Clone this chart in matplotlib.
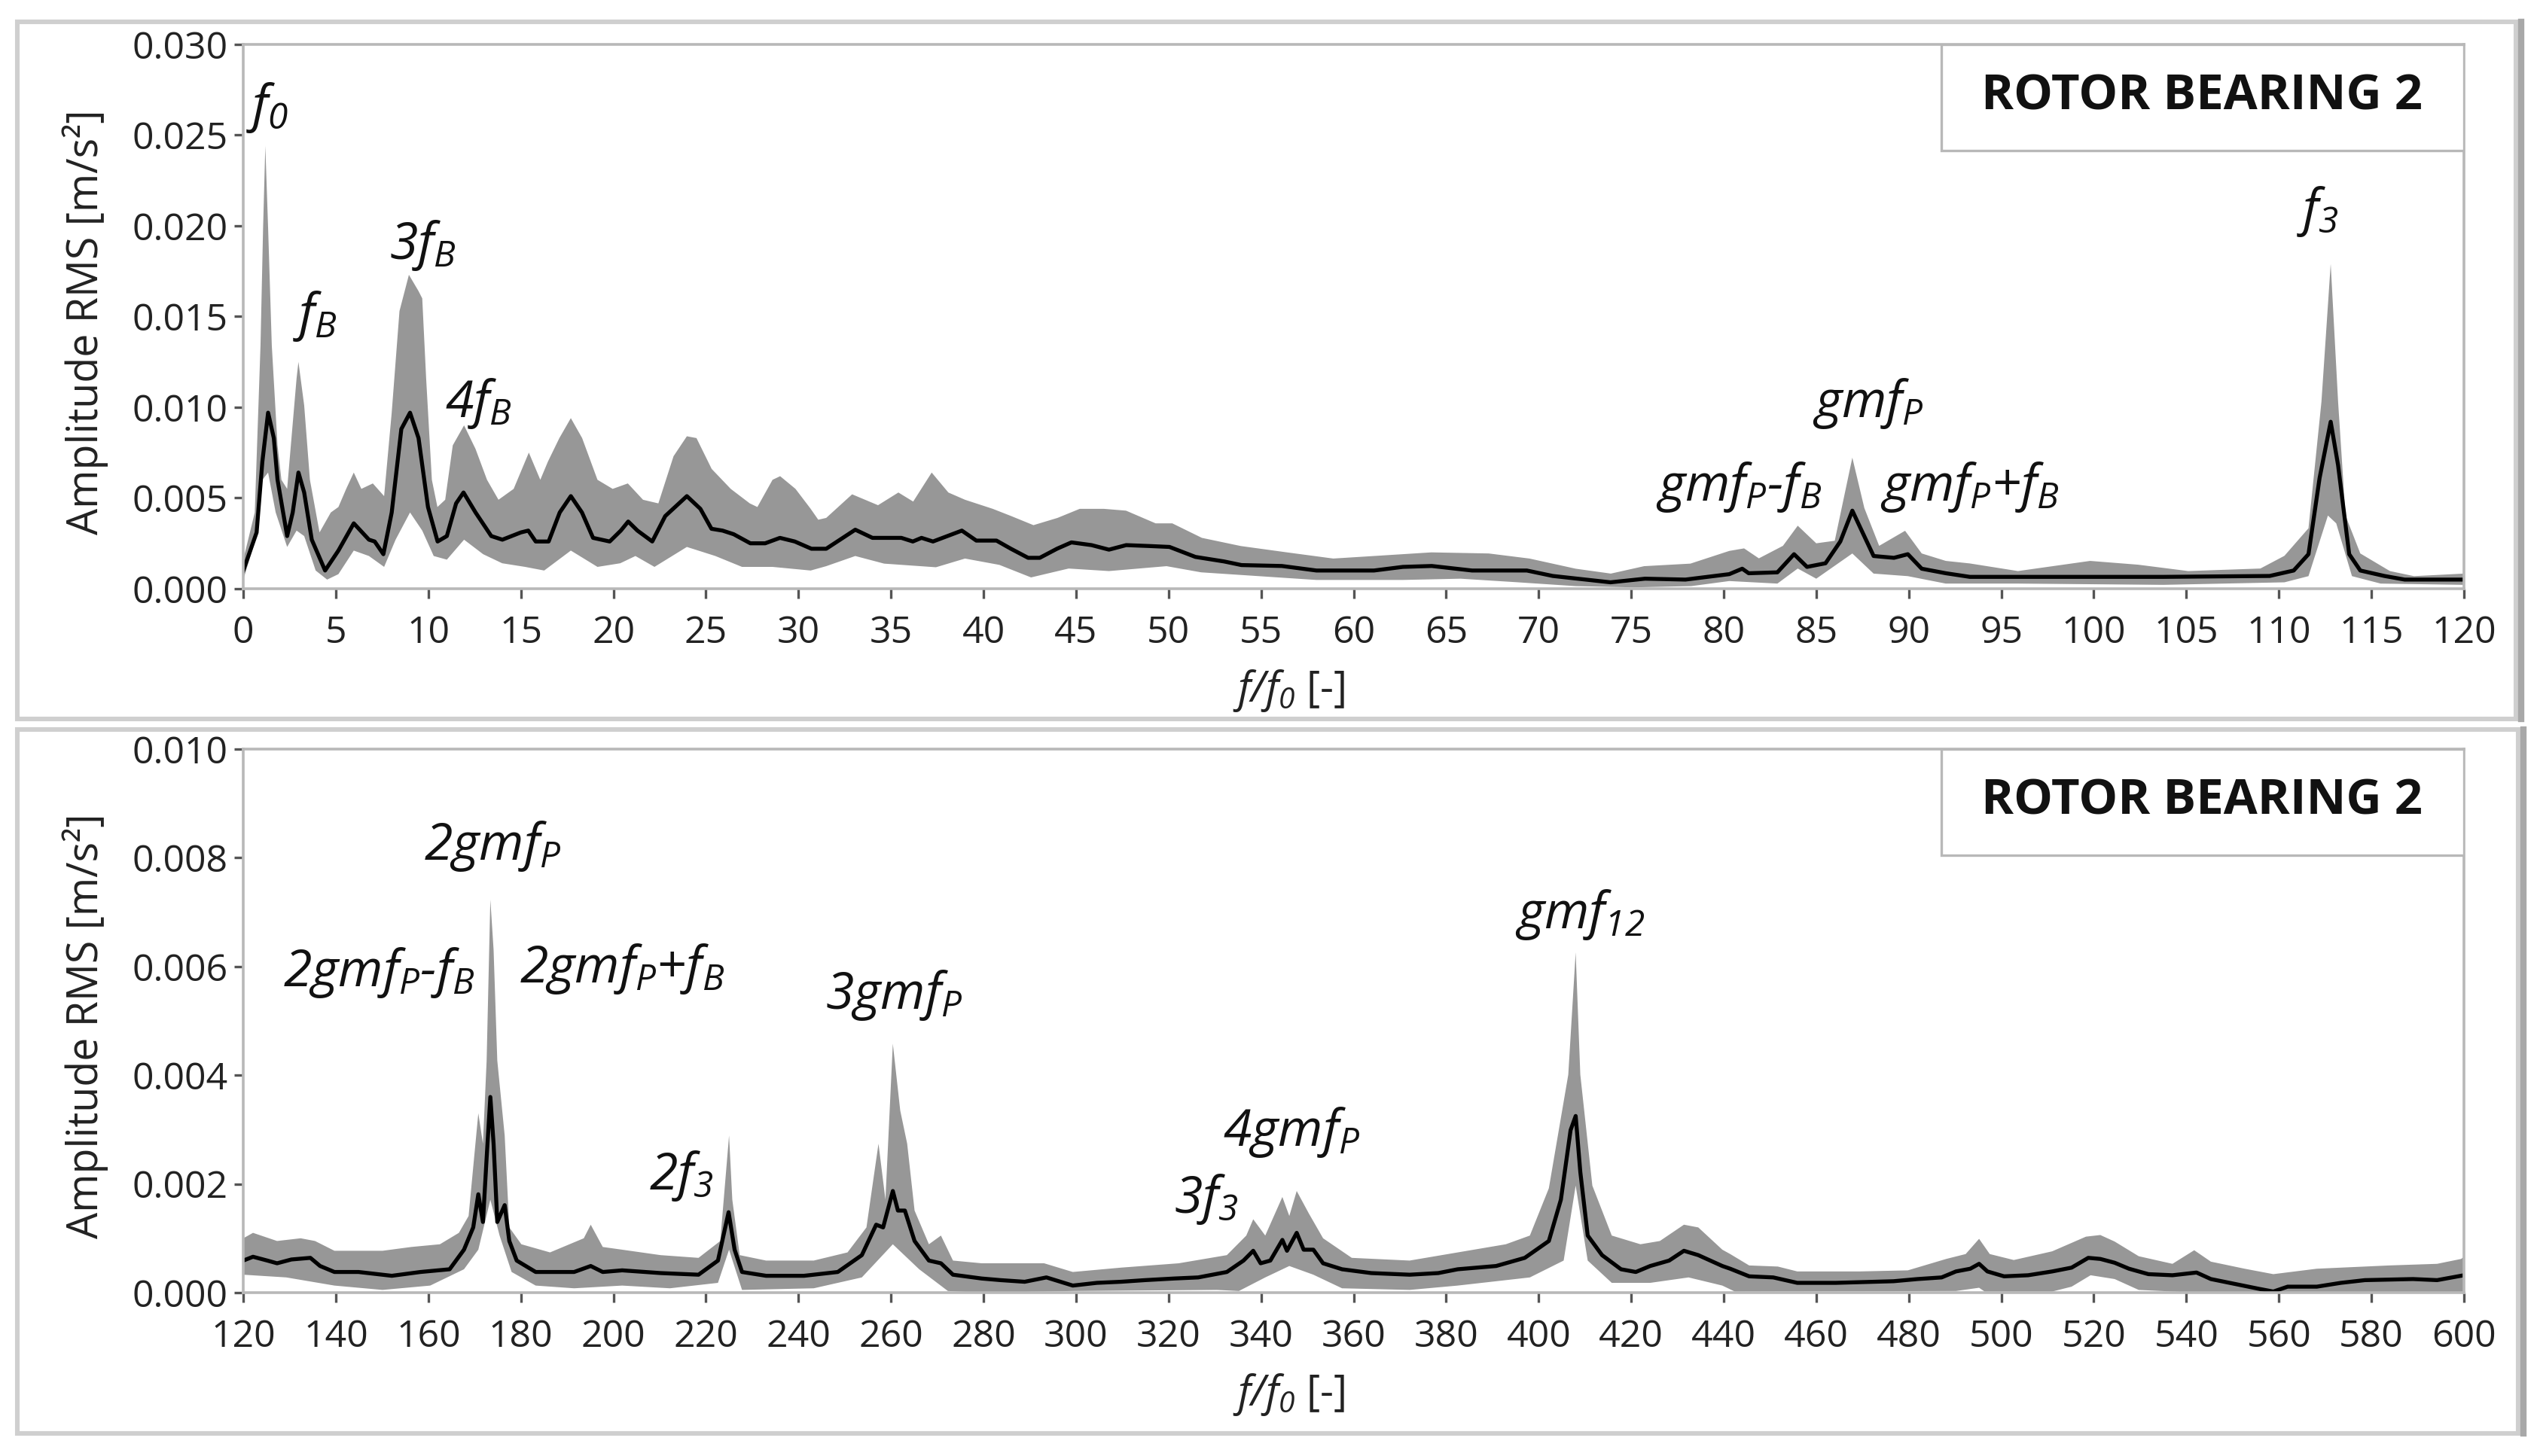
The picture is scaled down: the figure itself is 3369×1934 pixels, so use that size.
import numpy as np
import matplotlib
matplotlib.use("Agg")
import matplotlib.pyplot as plt
from matplotlib.patches import Rectangle
from matplotlib.lines import Line2D

plt.rcParams['font.family'] = ['Open Sans', 'DejaVu Sans']
plt.rcParams['mathtext.fontset'] = 'custom'
plt.rcParams['mathtext.it'] = 'Open Sans:italic'
plt.rcParams['mathtext.rm'] = 'Open Sans:italic'
plt.rcParams['mathtext.default'] = 'it'

# amplitudes are written in 1e-3 m/s^2

# ---- panel 1 : f/f0 = 0 .. 120 ----
top_mean_x = [0, 0.72, 1.03, 1.34, 1.65, 1.85, 2.37, 2.67, 2.98, 3.29, 3.70, 4.42, 5.14, 5.97, 6.79, 7.1, 7.57,
              8.02, 8.54, 9.01, 9.47, 9.98, 10.5, 11.0, 11.5, 11.9, 12.55, 13.4, 14.0, 15.0, 15.4, 15.8, 16.5,
              17.1, 17.7, 18.3, 18.9, 19.8, 20.4, 20.8, 21.3, 22.1, 22.8, 23.97, 24.7, 25.3, 25.9, 26.5, 27.4,
              28.2, 29.0, 29.8, 30.7, 31.5, 33.07, 34.0, 35.56, 36.18, 36.65, 37.27, 38.05, 38.83, 39.61, 40.7,
              41.48, 42.41, 43.04, 43.97, 44.75, 45.84, 46.78, 47.71, 48.96, 50.05, 51.45, 53.0, 53.94, 56.12,
              57.99, 61.1, 62.66, 64.22, 66.4, 69.36, 70.76, 73.88, 75.75, 77.93, 80.3, 81.0, 81.35, 82.9, 83.8,
              84.5, 85.5, 86.3, 86.95, 87.5, 88.1, 89.2, 89.95, 90.7, 92.0, 93.3, 98.5, 103.75, 109.5, 110.8,
              111.6, 112.2, 112.8, 113.2, 113.8, 114.4, 115.7, 116.8, 120]
top_mean_y = [1.0, 3.1, 7.0, 9.7, 8.3, 6.0, 2.9, 4.2, 6.4, 5.3, 2.7, 1.0, 2.1, 3.6, 2.7, 2.6, 1.9,
              4.2, 8.8, 9.7, 8.3, 4.5, 2.6, 2.9, 4.7, 5.3, 4.2, 2.9, 2.7, 3.1, 3.2, 2.6, 2.6,
              4.2, 5.1, 4.2, 2.8, 2.6, 3.2, 3.7, 3.2, 2.6, 4.0, 5.1, 4.4, 3.3, 3.2, 3.0, 2.5,
              2.5, 2.8, 2.6, 2.2, 2.2, 3.25, 2.8, 2.8, 2.6, 2.8, 2.6, 2.9, 3.2, 2.65, 2.65,
              2.2, 1.7, 1.7, 2.2, 2.55, 2.4, 2.15, 2.4, 2.35, 2.3, 1.75, 1.5, 1.3, 1.25,
              1.0, 1.0, 1.2, 1.25, 1.0, 1.0, 0.7, 0.35, 0.55, 0.5, 0.8, 1.1, 0.85, 0.9, 1.9,
              1.2, 1.4, 2.6, 4.3, 3.1, 1.8, 1.7, 1.9, 1.1, 0.85, 0.65, 0.65, 0.65, 0.7, 1.0,
              1.9, 6.1, 9.2, 6.8, 1.9, 1.0, 0.7, 0.5, 0.5]

top_upper_x = [0, 0.62, 0.93, 1.07, 1.19, 1.34, 1.54, 1.85, 2.06, 2.37, 2.57, 2.88, 2.98, 3.29, 3.60, 4.12,
               4.73, 5.14, 5.56, 5.97, 6.38, 7.0, 7.61, 8.02, 8.44, 8.95, 9.47, 9.67, 9.88, 10.19, 10.49,
               10.91, 11.32, 11.93, 12.55, 13.17, 13.79, 14.61, 15.43, 16.05, 16.46, 17.08, 17.7, 18.31,
               19.14, 19.96, 20.78, 21.6, 22.43, 23.25, 23.97, 24.49, 25.31, 26.34, 27.37, 27.78, 28.6,
               29.01, 29.84, 30.66, 31.07, 31.5, 32.9, 34.3, 35.4, 36.2, 37.2, 38.1, 39.0, 40.5, 41.5, 42.7,
               44.0, 45.2, 46.5, 47.7, 49.3, 50.2, 51.8, 53.9, 56.4, 58.9, 61.1, 64.2, 67.3, 69.5, 72.0,
               73.9, 75.7, 78.2, 80.3, 81.1, 81.9, 83.2, 84.0, 85.0, 86.0, 86.95, 87.6, 88.4, 89.8, 90.7,
               92.0, 93.3, 95.9, 99.8, 102.4, 105.1, 109.0, 110.3, 111.6, 112.3, 112.8, 113.2, 113.6, 114.4,
               116.0, 117.3, 120]
top_upper_y = [1.6, 4.2, 13.4, 19.9, 24.4, 19.9, 13.4, 7.9, 6.0, 5.5, 7.9, 11.6, 12.5, 10.1, 6.0, 3.1,
               4.2, 4.5, 5.5, 6.4, 5.5, 5.8, 5.1, 9.7, 15.3, 17.3, 16.4, 16.0, 11.6, 6.0, 4.5,
               4.9, 7.9, 9.0, 7.7, 6.0, 4.9, 5.5, 7.5, 6.0, 7.0, 8.3, 9.4, 8.3,
               6.0, 5.5, 5.8, 4.9, 4.7, 7.3, 8.4, 8.3, 6.6, 5.5, 4.7, 4.5, 6.0,
               6.2, 5.5, 4.4, 3.8, 3.9, 5.2, 4.6, 5.3, 4.8, 6.4, 5.3, 4.9, 4.4, 4.0, 3.5,
               3.9, 4.4, 4.4, 4.3, 3.6, 3.6, 2.8, 2.35, 2.0, 1.66, 1.8, 2.0, 1.94, 1.66, 1.1,
               0.83, 1.24, 1.38, 2.08, 2.22, 1.67, 2.36, 3.47, 2.5, 2.64, 7.22, 4.44, 2.36, 3.19, 1.94,
               1.53, 1.39, 0.97, 1.53, 1.32, 0.97, 1.11, 1.81, 3.33, 10.3, 17.9, 10.3, 4.03, 1.94,
               0.97, 0.69, 0.83]

top_lower_x = [0, 0.72, 1.03, 1.34, 1.75, 2.37, 2.88, 3.29, 3.91, 4.53, 5.14, 5.97, 6.79, 7.61, 8.23, 9.01,
               9.67, 10.29, 11.0, 11.93, 12.96, 13.99, 15.23, 16.26, 17.7, 19.14, 20.37, 21.19, 22.22, 23.97,
               25.51, 26.95, 28.6, 30.66, 31.5, 33.07, 34.63, 37.43, 39.0, 40.86, 42.57, 44.6, 46.78, 49.89,
               51.76, 54.88, 57.99, 62.66, 65.78, 68.89, 72.0, 75.12, 78.24, 80.3, 82.9, 84.0, 85.0, 86.95,
               88.1, 89.95, 92.0, 95.9, 103.75, 110.3, 111.6, 112.65, 113.1, 113.95, 115.5, 120]
top_lower_y = [0.5, 2.9, 6.0, 6.4, 4.2, 2.3, 3.2, 2.9, 1.0, 0.5, 0.8, 2.1, 1.8, 1.2, 2.7, 4.2,
               3.2, 1.8, 1.6, 2.7, 1.9, 1.4, 1.2, 1.0, 2.1, 1.2, 1.4, 1.8, 1.2, 2.3,
               1.8, 1.2, 1.2, 1.0, 1.24, 1.8, 1.38, 1.18, 1.66, 1.31, 0.62, 1.11, 0.97, 1.24,
               0.9, 0.69, 0.48, 0.48, 0.55, 0.35, 0.14, 0.07, 0.14, 0.42, 0.28, 1.11, 0.55, 1.94,
               0.83, 0.69, 0.28, 0.28, 0.21, 0.35, 0.69, 4.03, 3.6, 0.69, 0.28, 0.21]

# ---- panel 2 : f/f0 = 120 .. 600 ----
bot_mean_x = [120, 122.1, 125.2, 127.3, 130.4, 134.5, 136.6, 139.7, 144.9, 152.1, 158.3, 164.6, 167.7, 169.7,
              170.8, 171.8, 172.6, 173.4, 174.1, 174.9, 176.5, 177.5, 179.1, 183.2, 191.5, 195.1, 197.7, 201.9,
              210.2, 218.4, 222.6, 224.9, 226.2, 227.8, 233.0, 241.2, 248.5, 253.7, 256.8, 258.3, 260.4, 261.5,
              263.0, 265.1, 268.2, 270.8, 273.4, 279.6, 283.7, 288.9, 293.6, 299.3, 304.5, 309.7, 314.9, 321.2,
              326.4, 332.6, 336.2, 338.3, 339.9, 342.0, 344.6, 345.6, 347.7, 349.2, 351.3, 353.4, 357.5, 363.8,
              372.1, 378.3, 382.5, 390.8, 397.0, 402.2, 404.8, 406.9, 408.0, 409.0, 410.6, 413.7, 417.8, 421.0,
              424.1, 428.2, 431.4, 434.5, 439.7, 441.4, 445.5, 450.7, 455.9, 464.2, 476.7, 481.9, 487.1, 490.2,
              493.3, 495.2, 497.0, 500.6, 505.8, 511.0, 515.2, 518.8, 521.4, 524.5, 527.6, 531.8, 537.0, 542.2,
              545.3, 550.5, 555.7, 558.8, 561.9, 568.2, 573.4, 578.6, 589.0, 594.2, 600]
bot_mean_y = [0.59, 0.66, 0.59, 0.54, 0.61, 0.64, 0.49, 0.38, 0.38, 0.31, 0.38, 0.43, 0.79, 1.20,
              1.81, 1.30, 2.48, 3.60, 2.74, 1.30, 1.61, 0.95, 0.59, 0.38, 0.38, 0.49, 0.38, 0.41,
              0.36, 0.33, 0.59, 1.48, 0.79, 0.38, 0.31, 0.31, 0.38, 0.69, 1.25, 1.20, 1.87, 1.51,
              1.51, 0.95, 0.59, 0.54, 0.33, 0.26, 0.23, 0.20, 0.28, 0.13, 0.18, 0.20, 0.23, 0.26,
              0.28, 0.38, 0.59, 0.77, 0.54, 0.59, 0.97, 0.77, 1.10, 0.79, 0.79, 0.54, 0.43, 0.36,
              0.33, 0.36, 0.43, 0.49, 0.64, 0.95, 1.71, 2.99, 3.25, 2.22, 1.05, 0.69, 0.43, 0.38,
              0.49, 0.59, 0.77, 0.69, 0.49, 0.44, 0.30, 0.28, 0.18, 0.18, 0.21, 0.25, 0.28, 0.39,
              0.44, 0.53, 0.39, 0.30, 0.32, 0.39, 0.46, 0.64, 0.62, 0.55, 0.44, 0.34, 0.32, 0.37,
              0.25, 0.16, 0.07, 0.02, 0.11, 0.11, 0.18, 0.23, 0.25, 0.23, 0.32]

bot_upper_x = [120, 122.1, 127.3, 132.4, 135.5, 139.7, 150.1, 156.3, 162.5, 166.6, 168.7, 170.8, 171.8, 172.6,
               173.4, 174.1, 174.9, 176.5, 177.5, 180.1, 186.3, 193.6, 195.1, 197.7, 201.9, 210.2, 218.4, 223.1,
               225.0, 225.7, 227.3, 233.0, 243.3, 250.6, 254.7, 257.3, 258.8, 260.4, 262.0, 263.5, 265.1, 268.2,
               270.8, 273.4, 279.6, 293.1, 299.3, 309.7, 322.2, 332.6, 336.8, 338.3, 340.9, 344.6, 346.1, 347.7,
               350.3, 353.4, 359.6, 372.1, 382.5, 392.9, 398.1, 402.2, 406.4, 408.0, 409.0, 411.6, 415.8, 422.0,
               426.2, 431.4, 434.5, 439.7, 441.4, 445.5, 451.7, 455.9, 469.4, 479.8, 488.1, 492.3, 495.2, 497.5,
               502.7, 511.0, 518.3, 521.4, 524.5, 529.7, 537.0, 541.7, 545.3, 552.6, 558.8, 568.2, 583.8, 594.2,
               599.4, 600]
bot_upper_y = [1.0, 1.10, 0.95, 1.0, 0.95, 0.77, 0.77, 0.84, 0.89, 1.10, 1.41, 3.30, 2.74, 4.27,
               7.23, 6.31, 4.27, 2.89, 1.20, 0.89, 0.74, 1.0, 1.25, 0.84, 0.79, 0.69, 0.64, 0.95,
               2.89, 1.71, 0.69, 0.59, 0.59, 0.74, 1.20, 2.74, 1.71, 4.58, 3.35, 2.74, 1.51, 0.89,
               1.05, 0.59, 0.54, 0.54, 0.38, 0.46, 0.54, 0.69, 1.05, 1.35, 1.05, 1.76, 1.41, 1.87,
               1.46, 1.0, 0.64, 0.59, 0.74, 0.89, 1.05, 1.92, 4.01, 6.26, 4.01, 1.97, 1.05, 0.89,
               0.95, 1.25, 1.20, 0.79, 0.71, 0.50, 0.48, 0.39, 0.39, 0.41, 0.62, 0.71, 0.99, 0.71,
               0.60, 0.76, 1.03, 1.06, 0.94, 0.67, 0.53, 0.78, 0.57, 0.44, 0.34, 0.44, 0.50, 0.53,
               0.62, 0.66]

bot_lower_x = [120, 129.3, 139.7, 150.1, 160.4, 167.7, 170.8, 173.4, 175.4, 178.0, 183.2, 191.5, 201.9, 212.2,
               222.6, 225.0, 227.8, 243.3, 253.7, 260.4, 266.1, 272.3, 279.6, 299.3, 330.5, 335.2, 340.9, 346.1,
               351.3, 357.5, 372.1, 382.5, 398.1, 405.4, 408.0, 410.6, 415.8, 424.1, 432.4, 439.7, 442.4, 490.2,
               495.2, 496.4, 511.0, 515.2, 519.3, 524.5, 529.7, 542.2, 599.4, 600]
bot_lower_y = [0.33, 0.28, 0.13, 0.05, 0.13, 0.43, 0.79, 1.71, 1.05, 0.38, 0.13, 0.08, 0.13, 0.08,
               0.18, 0.79, 0.05, 0.08, 0.28, 0.89, 0.43, 0.03, 0.0, 0.03, 0.05, 0.03, 0.28, 0.49,
               0.33, 0.08, 0.05, 0.13, 0.28, 0.59, 1.97, 0.59, 0.18, 0.18, 0.28, 0.13, 0.02, 0.03,
               0.09, 0.02, 0.02, 0.11, 0.32, 0.25, 0.05, 0.0, 0.0, 0.0]

top_peaks = [r'$f_{0}$', r'$f_B$', r'$3f_B$', r'$4f_B$', r'$gmf_P$-$f_B$', r'$gmf_P$', r'$gmf_P$+$f_B$',
             r'$f_{3}$']
bot_peaks = [r'$2gmf_P$-$f_B$', r'$2gmf_P$', r'$2gmf_P$+$f_B$', r'$2f_{3}$', r'$3gmf_P$', r'$3f_{3}$',
             r'$4gmf_P$', r'$gmf_{12}$']

# where the peak names sit (data coords)
top_peak_pos = [(1.3, 0.0265), (3.9, 0.0150), (9.7, 0.0189), (12.7, 0.0102),
                (80.8, 0.0056), (87.8, 0.0102), (93.3, 0.0056), (112.1, 0.0208)]
bot_peak_pos = [(149.3, 0.00589), (173.9, 0.00821), (201.8, 0.00596), (214.7, 0.00215),
                (260.6, 0.00547), (328.2, 0.00172), (346.6, 0.00295), (408.9, 0.00695)]

W, H = 3369, 1934
fig = plt.figure(figsize=(W / 200, H / 200), dpi=200)
fig.patch.set_facecolor('white')

# grey panel frames
for (x0, y0, x1, y1) in [(23, 29, 3341, 955), (23, 969, 3344, 1904)]:
    fig.patches.append(Rectangle((x0 / W, 1 - y1 / H), (x1 - x0) / W, (y1 - y0) / H,
                                 transform=fig.transFigure, fill=False, edgecolor='#cfcfcf', lw=2.2))
    fig.lines.append(Line2D([x1 / W + 0.002, x1 / W + 0.002], [1 - y1 / H, 1 - y0 / H],
                            transform=fig.transFigure, color='#a8a8a8', lw=3))

ax1 = fig.add_axes([0.0959, 0.5957, 0.8753, 0.3738])
ax2 = fig.add_axes([0.0959, 0.1122, 0.8753, 0.3733])

panels = [
    (ax1, top_mean_x, top_mean_y, top_upper_x, top_upper_y, top_lower_x, top_lower_y,
     (0, 120), np.arange(0, 121, 5), (0, 0.030), np.arange(0, 0.0301, 0.005), top_peaks, top_peak_pos),
    (ax2, bot_mean_x, bot_mean_y, bot_upper_x, bot_upper_y, bot_lower_x, bot_lower_y,
     (120, 600), np.arange(120, 601, 20), (0, 0.010), np.arange(0, 0.0101, 0.002), bot_peaks, bot_peak_pos),
]

for ax, mx, my, ux, uy, lx, ly, xlim, xt, ylim, yt, names, pos in panels:
    # band between min and max, mean on top
    bx = np.concatenate([ux, lx[::-1]])
    by = np.concatenate([uy, ly[::-1]]) * 1e-3
    ax.fill(bx, by, color='#979797', lw=0, zorder=1)
    ax.plot(mx, np.asarray(my) * 1e-3, color='black', lw=1.9, zorder=2)

    ax.set_xlim(*xlim)
    ax.set_ylim(*ylim)
    ax.set_xticks(xt)
    ax.set_yticks(yt)
    ax.set_yticklabels(['%.3f' % v for v in yt])
    for s in ax.spines.values():
        s.set_color('#b8b8b8')
        s.set_linewidth(1.3)
    ax.tick_params(axis='both', direction='out', length=4.5, width=1.2, color='#555555',
                   labelsize=18, labelcolor='#222222')
    ax.tick_params(axis='x', pad=8)
    ax.tick_params(axis='y', pad=3)

    ax.set_xlabel(r'$f/f_{0}$ [-]', fontsize=20, color='#222222', va='center')
    ax.xaxis.set_label_coords(0.471, -0.187)
    ax.set_ylabel('Amplitude RMS [m/s²]', fontsize=20, color='#222222', va='center')
    ax.yaxis.set_label_coords(-0.0712, 0.49)

    for name, (px, py) in zip(names, pos):
        ax.text(px, py, name, fontsize=24.5, ha='center', va='center', style='italic',
                color='#111111', zorder=3)

    ax.add_patch(Rectangle((0.7647, 0.805), 0.2353, 0.195, transform=ax.transAxes,
                           facecolor='white', edgecolor='#b8b8b8', lw=1.2, zorder=4))
    ax.text(0.882, 0.9025, 'ROTOR BEARING 2', transform=ax.transAxes, fontsize=23.5,
            fontweight='bold', ha='center', va='center', color='#111111', zorder=5)

fig.savefig('out.png', dpi=200)
